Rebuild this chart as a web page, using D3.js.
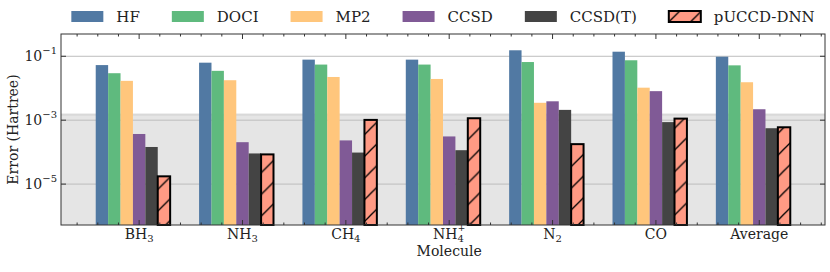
<!DOCTYPE html>
<html>
<head>
<meta charset="utf-8">
<script src="https://cdn.jsdelivr.net/npm/d3@7"></script>
<style>
  body { margin: 0; background: #fff; }
  svg text { font-family: "DejaVu Serif", serif; fill: #222; }
</style>
</head>
<body>
<div id="chart"></div>
<script>
// molecules on the x axis; sub/sup parts for the tick labels
const molecules = ["BH3", "NH3", "CH4", "NH4+", "N2", "CO", "Average"];
const moleculeParts = [
    ["BH", "3", ""], ["NH", "3", ""], ["CH", "4", ""], ["NH", "4", "+"],
    ["N", "2", ""], ["CO", "", ""], ["Average", "", ""]
];
const methods = ["HF", "DOCI", "MP2", "CCSD", "CCSD(T)", "pUCCD-DNN"];

// errors in Hartree
const hf       = [0.053, 0.063, 0.0785, 0.0785, 0.154, 0.139, 0.097];
const doci     = [0.0295, 0.035, 0.055, 0.055, 0.066, 0.075, 0.052];
const mp2      = [0.017, 0.0178, 0.0225, 0.0195, 0.0035, 0.0104, 0.0154];
const ccsd     = [3.7e-4, 2.05e-4, 2.33e-4, 3.1e-4, 3.9e-3, 8.1e-3, 2.2e-3];
const ccsdT    = [1.45e-4, 9.1e-5, 9.7e-5, 1.15e-4, 2.1e-3, 8.7e-4, 5.6e-4];
const puccdDnn = [1.75e-5, 8.5e-5, 1.02e-3, 1.15e-3, 1.78e-4, 1.12e-3, 6.0e-4];
const series = [hf, doci, mp2, ccsd, ccsdT, puccdDnn];

const chemAccuracy = 1.6e-3;
const yTicks = [1e-1, 1e-3, 1e-5];
const yTickExp = ["−1", "−3", "−5"];

const colors = ["#5179a3", "#5fba7e", "#ffc67c", "#805a96", "#444444", "#ff9a84"];

const width = 830;
const height = 272;
const margin = { left: 61, top: 34, right: 5, bottom: 47 };
const barW = 0.12;
const fontFam = "'DejaVu Serif', serif";

const svg = d3.select("#chart")
    .append("svg")
    .attr("width", width)
    .attr("height", height)
    .attr("font-family", fontFam);

const defs = svg.append("defs");
const hs = 21.7;
const pat = defs.append("pattern")
    .attr("id", "hatch")
    .attr("patternUnits", "userSpaceOnUse")
    .attr("width", hs)
    .attr("height", hs);
pat.append("rect").attr("width", hs).attr("height", hs).attr("fill", colors[5]);
pat.append("path")
    .attr("d", `M0,${hs} L${hs},0 M${-hs/2},${hs/2} L${hs/2},${-hs/2} M${hs/2},${hs*1.5} L${hs*1.5},${hs/2}`)
    .attr("stroke", "#000")
    .attr("stroke-width", 1.3);

const x = d3.scaleLinear()
    .domain([-0.756, 6.636])
    .range([margin.left, width - margin.right]);

const y = d3.scaleLog()
    .domain([Math.pow(10, -6.28), Math.pow(10, -0.303)])
    .range([height - margin.bottom, margin.top]);

const plotTop = margin.top, plotBottom = height - margin.bottom;
const plotLeft = margin.left, plotRight = width - margin.right;

// chemical accuracy band
svg.append("rect")
    .attr("x", plotLeft)
    .attr("y", y(chemAccuracy))
    .attr("width", plotRight - plotLeft)
    .attr("height", plotBottom - y(chemAccuracy))
    .attr("fill", "#e5e5e5");
svg.append("line")
    .attr("x1", plotLeft).attr("x2", plotRight)
    .attr("y1", y(chemAccuracy) + 1).attr("y2", y(chemAccuracy) + 1)
    .attr("stroke", "#d9d9d9")
    .attr("stroke-width", 2);

// grid
svg.selectAll(".grid")
    .data(yTicks)
    .join("line")
        .attr("class", "grid")
        .attr("x1", plotLeft).attr("x2", plotRight)
        .attr("y1", d => y(d)).attr("y2", d => y(d))
        .attr("stroke", "#bdbdbd")
        .attr("stroke-width", 1);

// bars
const gSeries = svg.selectAll(".series")
    .data(series)
    .join("g")
        .attr("class", "series");

gSeries.selectAll("rect")
    .data((d, j) => d.map((v, i) => ({ v, i, j })))
    .join("rect")
        .attr("x", d => x(d.i + (d.j - 3) * barW - barW / 2))
        .attr("width", x(barW) - x(0))
        .attr("y", d => y(d.v))
        .attr("height", d => plotBottom - y(d.v))
        .attr("fill", d => d.j === 5 ? "url(#hatch)" : colors[d.j])
        .attr("stroke", d => d.j === 5 ? "#000" : "none")
        .attr("stroke-width", 2);

// frame
svg.append("rect")
    .attr("x", plotLeft).attr("y", plotTop)
    .attr("width", plotRight - plotLeft).attr("height", plotBottom - plotTop)
    .attr("fill", "none")
    .attr("stroke", "#333")
    .attr("stroke-width", 1);

// x ticks (inward, top and bottom)
const majorX = d3.range(molecules.length);
const minorX = d3.range(-3, 34).map(k => k * 0.2).filter(v => Math.abs(v - Math.round(v)) > 0.01 && v > -0.756 && v < 6.636);
const xt = svg.append("g").attr("stroke", "#333").attr("stroke-width", 1);
[[majorX, 5], [minorX, 2.5]].forEach(([vals, len]) => {
    vals.forEach(v => {
        xt.append("line").attr("x1", x(v)).attr("x2", x(v)).attr("y1", plotBottom).attr("y2", plotBottom - len);
        xt.append("line").attr("x1", x(v)).attr("x2", x(v)).attr("y1", plotTop).attr("y2", plotTop + len);
    });
});
yTicks.forEach(v => {
    xt.append("line").attr("x1", plotLeft).attr("x2", plotLeft + 5).attr("y1", y(v)).attr("y2", y(v));
    xt.append("line").attr("x1", plotRight).attr("x2", plotRight - 5).attr("y1", y(v)).attr("y2", y(v));
});

// x tick labels
const fs = 14;
const xl = svg.selectAll(".xlabel")
    .data(moleculeParts)
    .join("text")
        .attr("class", "xlabel")
        .attr("x", (_, i) => x(i))
        .attr("y", 239)
        .attr("text-anchor", "middle")
        .attr("font-family", fontFam)
        .style("font-size", fs + "px");
xl.each(function(p) {
    const t = d3.select(this);
    t.append("tspan").text(p[0]);
    if (p[1]) t.append("tspan").attr("dy", 3).style("font-size", "10px").text(p[1]);
    if (p[2]) t.append("tspan").attr("dx", -6).attr("dy", -11).style("font-size", "9px").text(p[2]);
});

// y tick labels
svg.selectAll(".ylabel")
    .data(yTicks)
    .join("text")
        .attr("class", "ylabel")
        .attr("x", 57)
        .attr("y", d => y(d) + 5)
        .attr("text-anchor", "end")
        .attr("font-family", fontFam)
        .style("font-size", fs + "px")
        .each(function(d, i) {
            const t = d3.select(this);
            t.append("tspan").text("10");
            t.append("tspan").attr("dy", -7).style("font-size", "10px").text(yTickExp[i]);
        });

// axis titles
svg.append("text")
    .attr("x", x(3))
    .attr("y", 256)
    .attr("text-anchor", "middle")
    .attr("font-family", fontFam)
    .style("font-size", fs + "px")
    .text("Molecule");

svg.append("text")
    .attr("transform", `translate(18, ${(plotTop + plotBottom) / 2}) rotate(-90)`)
    .attr("text-anchor", "middle")
    .attr("font-family", fontFam)
    .style("font-size", fs + "px")
    .text("Error (Hartree)");

// legend
const legend = svg.append("g");
const items = legend.selectAll(".item")
    .data(methods)
    .join("g")
        .attr("class", "item");
items.append("rect")
    .attr("width", 32).attr("height", 11)
    .attr("y", -11)
    .attr("fill", (_, j) => j === 5 ? "url(#hatch)" : colors[j])
    .attr("stroke", (_, j) => j === 5 ? "#000" : "none")
    .attr("stroke-width", 2);
items.append("text")
    .attr("x", 45)
    .attr("y", 0)
    .attr("font-family", fontFam)
    .style("font-size", "15px")
    .text(d => d);
let offs = [], cur = 0;
items.each(function() {
    offs.push(cur);
    cur += 45 + d3.select(this).select("text").node().getComputedTextLength() + 32;
});
const total = cur - 32;
const lx = (plotLeft + plotRight) / 2 - total / 2;
items.attr("transform", (_, j) => `translate(${lx + offs[j]}, 22)`);
</script>
</body>
</html>
